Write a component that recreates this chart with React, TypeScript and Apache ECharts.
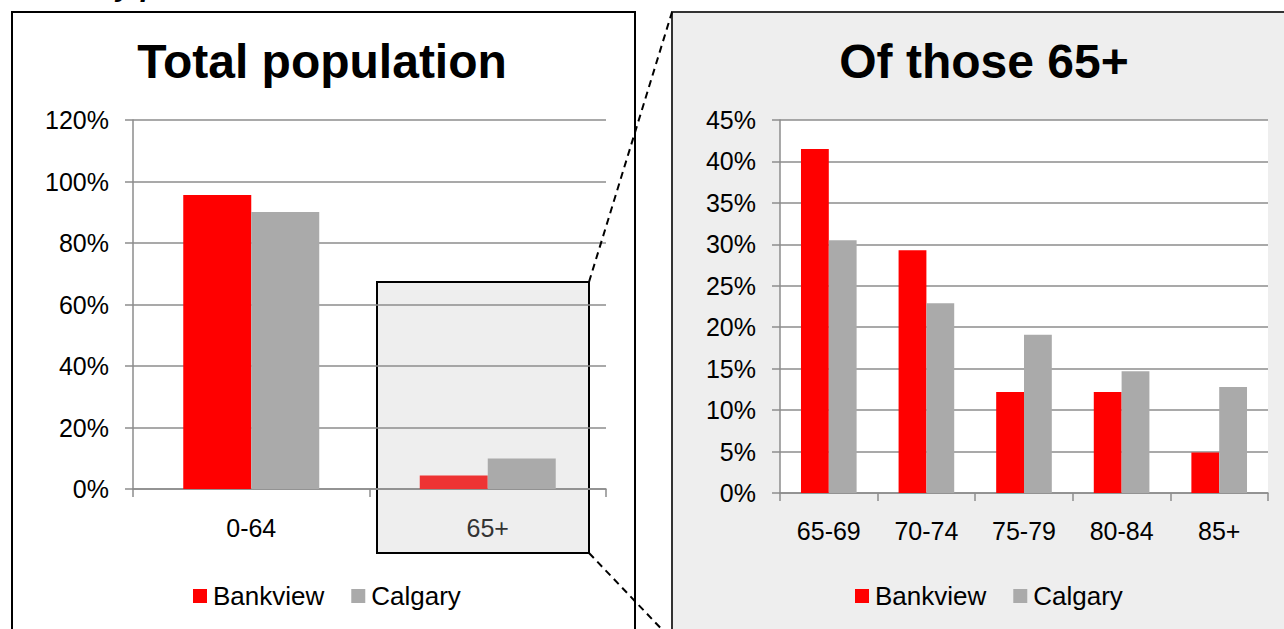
import React, { useEffect, useRef } from "react";
import * as echarts from "echarts";

const totalCategories = ["0-64", "65+"];
const totalBankview = [95.6, 4.4];
const totalCalgary = [90.1, 9.9];

const seniorCategories = ["65-69", "70-74", "75-79", "80-84", "85+"];
const seniorBankview = [41.5, 29.3, 12.2, 12.2, 4.9];
const seniorCalgary = [30.5, 22.9, 19.1, 14.7, 12.8];

const FONT = "Liberation Sans, Arial, sans-serif";
const RED = "#ff0000";
const GREY = "#aaaaaa";
const AXIS = "#8c8c8c";

export default function App() {
  const ref = useRef<HTMLDivElement>(null);

  useEffect(() => {
    if (!ref.current) return;
    const chart = echarts.init(ref.current, undefined, { renderer: "svg" });

    const yAxisCommon = (min: number, max: number, interval: number) => ({
      type: "value" as const,
      min,
      max,
      interval,
      axisLine: { show: true, lineStyle: { color: AXIS, width: 1.5 } },
      axisTick: { show: true, length: 8, lineStyle: { color: AXIS, width: 1.5 } },
      splitLine: { show: true, lineStyle: { color: AXIS, width: 1.5 } },
      axisLabel: {
        formatter: "{value}%",
        color: "#000",
        fontFamily: FONT,
        fontSize: 25,
        margin: 24,
      },
    });

    const xAxisCommon = (data: string[], margin: number) => ({
      type: "category" as const,
      data,
      axisLine: { show: true, lineStyle: { color: AXIS, width: 1.5 } },
      axisTick: { show: true, length: 8, alignWithLabel: false, lineStyle: { color: AXIS, width: 1.5 } },
      axisLabel: {
        color: "#000",
        fontFamily: FONT,
        fontSize: 25,
        margin,
      },
    });

    const legendCommon = (left: number) => ({
      left,
      top: 578,
      itemWidth: 14,
      itemHeight: 14,
      itemGap: 27,
      icon: "rect",
      data: ["Bankview", "Calgary"],
      textStyle: { color: "#000", fontFamily: FONT, fontSize: 26, padding: [0, 0, 0, 1] },
      selectedMode: false,
    });

    chart.setOption({
      animation: false,
      textStyle: { fontFamily: FONT },
      graphic: [
        {
          type: "rect",
          z: -20,
          shape: { x: 12, y: 12, width: 623, height: 640 },
          style: { fill: "#ffffff", stroke: "#000", lineWidth: 2 },
        },
        {
          type: "rect",
          z: -20,
          shape: { x: 672, y: 12, width: 630, height: 640 },
          style: { fill: "#eeeeee", stroke: "#333", lineWidth: 2 },
        },
        {
          type: "rect",
          z: -10,
          shape: { x: 377, y: 282, width: 212, height: 271 },
          style: { fill: "#eeeeee", stroke: "#000", lineWidth: 2 },
        },
        {
          type: "line",
          z: 10,
          shape: { x1: 589, y1: 282, x2: 672, y2: 12 },
          style: { stroke: "#000", lineWidth: 2, lineDash: [7, 5] },
        },
        {
          type: "line",
          z: 10,
          shape: { x1: 589, y1: 553, x2: 672, y2: 640 },
          style: { stroke: "#000", lineWidth: 2, lineDash: [7, 5] },
        },
        {
          type: "text",
          z: 10,
          style: {
            x: 322,
            y: 61,
            text: "Total population",
            fill: "#000",
            font: `bold 48px ${FONT}`,
            align: "center",
            verticalAlign: "middle",
          },
        },
        {
          type: "text",
          z: 10,
          style: {
            x: 984,
            y: 61,
            text: "Of those 65+",
            fill: "#000",
            font: `bold 48px ${FONT}`,
            align: "center",
            verticalAlign: "middle",
          },
        },
        {
          type: "text",
          z: 10,
          style: {
            x: 116,
            y: -30,
            text: "y p",
            fill: "#000",
            font: `italic bold 30px ${FONT}`,
            align: "left",
            verticalAlign: "top",
          },
        },
      ],
      grid: [
        { left: 133, top: 120, width: 473, height: 369, containLabel: false },
        {
          left: 780,
          top: 120,
          width: 488,
          height: 373,
          show: true,
          backgroundColor: "#ffffff",
          borderWidth: 0,
          containLabel: false,
        },
      ],
      xAxis: [
        {
          ...xAxisCommon(totalCategories, 26),
          gridIndex: 0,
          axisLabel: {
            fontFamily: FONT,
            fontSize: 25,
            margin: 26,
            color: (_v: string, i: number) => (i === 1 ? "#333333" : "#000000"),
          },
        },
        { ...xAxisCommon(seniorCategories, 25), gridIndex: 1 },
      ],
      yAxis: [
        { ...yAxisCommon(0, 120, 20), gridIndex: 0 },
        { ...yAxisCommon(0, 45, 5), gridIndex: 1 },
      ],
      legend: [legendCommon(188), legendCommon(850)],
      series: [
        {
          name: "Bankview",
          type: "bar",
          xAxisIndex: 0,
          yAxisIndex: 0,
          barGap: "0%",
          barCategoryGap: "42.5%",
          itemStyle: { color: RED },
          data: totalBankview.map((v, i) =>
            i === 1 ? { value: v, itemStyle: { color: "#ee3333" } } : v
          ),
        },
        {
          name: "Calgary",
          type: "bar",
          xAxisIndex: 0,
          yAxisIndex: 0,
          barGap: "0%",
          barCategoryGap: "42.5%",
          itemStyle: { color: GREY },
          data: totalCalgary,
        },
        {
          name: "Bankview",
          type: "bar",
          xAxisIndex: 1,
          yAxisIndex: 1,
          barGap: "0%",
          barCategoryGap: "43%",
          itemStyle: { color: RED },
          data: seniorBankview,
        },
        {
          name: "Calgary",
          type: "bar",
          xAxisIndex: 1,
          yAxisIndex: 1,
          barGap: "0%",
          barCategoryGap: "43%",
          itemStyle: { color: GREY },
          data: seniorCalgary,
        },
      ],
    });

    return () => chart.dispose();
  }, []);

  return (
    <div
      ref={ref}
      style={{ position: "fixed", left: 0, top: 0, width: 1284, height: 629, background: "#fff" }}
    />
  );
}
